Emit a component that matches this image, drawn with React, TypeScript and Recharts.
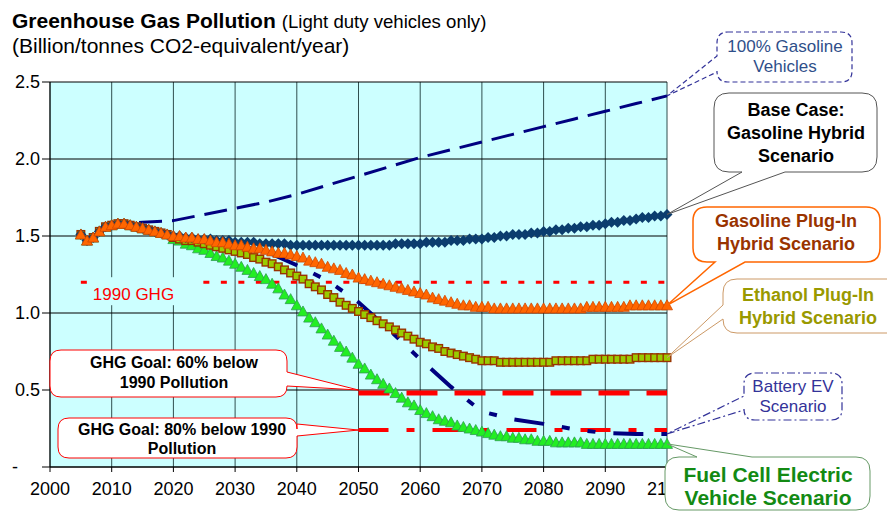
import React from 'react';
import { LineChart, Line, XAxis, YAxis, CartesianGrid, ReferenceLine, ReferenceDot } from 'recharts';

const FONT = '"Liberation Sans", Arial, sans-serif';

// x categories: one point per year
const years = Array.from({ length: 96 }, (_, i) => 2005 + i);
const xTicks = [2000, 2010, 2020, 2030, 2040, 2050, 2060, 2070, 2080, 2090, 2100];
const yTicks = [0, 0.5, 1, 1.5, 2, 2.5];

// shared history 2005-2019
const early = [1.51, 1.47, 1.49, 1.53, 1.56, 1.57, 1.58, 1.58, 1.57, 1.56, 1.55, 1.54, 1.53, 1.52, 1.51];

// 2020-2100, yearly
const baseTail = [
  1.50, 1.50, 1.49, 1.49, 1.48, 1.48, 1.48, 1.47, 1.47, 1.47,
  1.46, 1.46, 1.46, 1.46, 1.45, 1.45, 1.45, 1.45, 1.45, 1.44,
  1.44, 1.44, 1.44, 1.44, 1.44, 1.44, 1.44, 1.44, 1.44, 1.44,
  1.44, 1.44, 1.44, 1.44, 1.44, 1.44, 1.45, 1.45, 1.45, 1.45,
  1.45, 1.46, 1.46, 1.46, 1.46, 1.47, 1.47, 1.47, 1.48, 1.48,
  1.48, 1.49, 1.49, 1.50, 1.50, 1.51, 1.51, 1.51, 1.52, 1.52,
  1.53, 1.53, 1.54, 1.54, 1.55, 1.55, 1.56, 1.56, 1.57, 1.57,
  1.58, 1.59, 1.59, 1.60, 1.60, 1.61, 1.62, 1.62, 1.63, 1.63,
  1.64,
];
const gasPhevTail = [
  1.50, 1.50, 1.49, 1.49, 1.48, 1.48, 1.47, 1.46, 1.46, 1.45,
  1.44, 1.44, 1.43, 1.42, 1.42, 1.41, 1.40, 1.39, 1.39, 1.38,
  1.37, 1.36, 1.34, 1.33, 1.32, 1.30, 1.29, 1.28, 1.26, 1.25,
  1.23, 1.22, 1.21, 1.20, 1.19, 1.18, 1.17, 1.16, 1.15, 1.14,
  1.13, 1.12, 1.10, 1.09, 1.08, 1.07, 1.06, 1.05, 1.05, 1.04,
  1.04, 1.04, 1.03, 1.03, 1.03, 1.03, 1.03, 1.03, 1.03, 1.03,
  1.03, 1.03, 1.03, 1.03, 1.03, 1.03, 1.03, 1.04, 1.04, 1.04,
  1.04, 1.04, 1.04, 1.04, 1.05, 1.05, 1.05, 1.05, 1.05, 1.05,
  1.05,
];
const ethanolTail = [
  1.49, 1.48, 1.47, 1.47, 1.46, 1.45, 1.44, 1.43, 1.42, 1.41,
  1.40, 1.39, 1.38, 1.36, 1.35, 1.33, 1.32, 1.30, 1.28, 1.26,
  1.24, 1.22, 1.19, 1.17, 1.15, 1.12, 1.10, 1.07, 1.05, 1.03,
  1.01, 0.99, 0.97, 0.95, 0.93, 0.91, 0.89, 0.87, 0.85, 0.83,
  0.81, 0.80, 0.78, 0.77, 0.75, 0.74, 0.73, 0.72, 0.71, 0.70,
  0.69, 0.69, 0.69, 0.68, 0.68, 0.68, 0.68, 0.68, 0.68, 0.68,
  0.68, 0.68, 0.69, 0.69, 0.69, 0.69, 0.69, 0.69, 0.70, 0.70,
  0.70, 0.70, 0.70, 0.70, 0.70, 0.71, 0.71, 0.71, 0.71, 0.71,
  0.71,
];
const fuelCellTail = [
  1.48, 1.47, 1.45, 1.44, 1.42, 1.41, 1.39, 1.37, 1.36, 1.34,
  1.32, 1.30, 1.28, 1.26, 1.24, 1.22, 1.19, 1.16, 1.12, 1.09,
  1.05, 1.01, 0.97, 0.94, 0.90, 0.86, 0.82, 0.78, 0.75, 0.71,
  0.67, 0.64, 0.60, 0.57, 0.54, 0.51, 0.48, 0.45, 0.42, 0.40,
  0.37, 0.35, 0.33, 0.31, 0.30, 0.29, 0.27, 0.26, 0.25, 0.24,
  0.23, 0.22, 0.21, 0.20, 0.20, 0.19, 0.19, 0.18, 0.18, 0.17,
  0.17, 0.17, 0.16, 0.16, 0.16, 0.16, 0.16, 0.15, 0.15, 0.15,
  0.15, 0.15, 0.15, 0.15, 0.15, 0.15, 0.15, 0.15, 0.15, 0.15,
  0.15,
];

// lines without markers: sparse points
const gasYears = [2005, 2006, 2007, 2008, 2009, 2010, 2011, 2012, 2015, 2020, 2025, 2030, 2035, 2040, 2045, 2050, 2055, 2060, 2065, 2070, 2075, 2080, 2085, 2090, 2095, 2100];
const gasValues = [1.51, 1.47, 1.49, 1.53, 1.56, 1.57, 1.58, 1.58, 1.59, 1.60, 1.64, 1.68, 1.72, 1.77, 1.83, 1.89, 1.95, 2.01, 2.06, 2.11, 2.16, 2.21, 2.26, 2.31, 2.36, 2.41];
const bevYears = [2005, 2006, 2007, 2008, 2009, 2010, 2011, 2012, 2013, 2014, 2015, 2016, 2017, 2018, 2019, 2020, 2025, 2030, 2035, 2040, 2045, 2050, 2055, 2060, 2065, 2070, 2075, 2080, 2085, 2090, 2095, 2100];
const bevTail = [1.50, 1.47, 1.44, 1.40, 1.31, 1.21, 1.07, 0.89, 0.70, 0.52, 0.36, 0.31, 0.28, 0.245, 0.22, 0.215, 0.215];

const ghg1990 = 1.2;
const goal60 = 0.48;
const goal80 = 0.24;

const baseCase = [...early, ...baseTail];
const gasPhev = [...early, ...gasPhevTail];
const ethanolPhev = [...early, ...ethanolTail];
const fuelCell = [...early, ...fuelCellTail];
const bev = [...early, ...bevTail];

const toPoints = (xs: number[], vs: number[]) => xs.map((year, i) => ({ year, value: vs[i] }));
const last = (a: number[]) => a[a.length - 1];

const Diamond = (p: any) => (
  <path key={p.index} d={`M${p.cx},${p.cy - 5.5}L${p.cx + 5.5},${p.cy}L${p.cx},${p.cy + 5.5}L${p.cx - 5.5},${p.cy}Z`} fill="#0B3D6E" />
);
const OrangeTri = (p: any) => (
  <path key={p.index} d={`M${p.cx},${p.cy - 5.5}L${p.cx + 5.5},${p.cy + 4.5}L${p.cx - 5.5},${p.cy + 4.5}Z`} fill="#FF6600" stroke="#D04800" strokeWidth={0.8} />
);
const GreenTri = (p: any) => (
  <path key={p.index} d={`M${p.cx},${p.cy - 5.5}L${p.cx + 5.5},${p.cy + 4.5}L${p.cx - 5.5},${p.cy + 4.5}Z`} fill="#22EE22" stroke="#2E9E50" strokeWidth={0.8} />
);
const Square = (p: any) => (
  <rect key={p.index} x={p.cx - 3.8} y={p.cy - 3.8} width={7.6} height={7.6} fill="#99CC00" stroke="#993300" strokeWidth={1.4} />
);

const YTick = (p: any) => {
  const v = p.payload.value;
  return (
    <text x={v === 0 ? p.x - 22 : p.x} y={p.y} dy="0.355em" textAnchor="end" fontSize={18} fill="#000" fontFamily={FONT}>
      {v === 0 ? '-' : v.toFixed(1)}
    </text>
  );
};

type Tail = { side: 'top' | 'right' | 'bottom' | 'left'; a: number; b: number };
type CalloutSpec = {
  key: string; ax: number; ay: number;
  x: number; y: number; w: number; h: number; r: number;
  stroke: string; sw: number; dash?: string; tail: Tail;
  lines: string[]; color: string; fs: number; bold: boolean; tx: number; base: number; gap: number;
};

function calloutPath(c: CalloutSpec, tx: number, ty: number) {
  const { x, y, w, h, r, tail: t } = c;
  const R = x + w, B = y + h;
  let d = `M${x + r},${y}`;
  if (t.side === 'top') d += `L${t.a},${y}L${tx},${ty}L${t.b},${y}`;
  d += `L${R - r},${y}Q${R},${y} ${R},${y + r}`;
  if (t.side === 'right') d += `L${R},${t.a}L${tx},${ty}L${R},${t.b}`;
  d += `L${R},${B - r}Q${R},${B} ${R - r},${B}`;
  if (t.side === 'bottom') d += `L${t.b},${B}L${tx},${ty}L${t.a},${B}`;
  d += `L${x + r},${B}Q${x},${B} ${x},${B - r}`;
  if (t.side === 'left') d += `L${x},${t.b}L${tx},${ty}L${x},${t.a}`;
  d += `L${x},${y + r}Q${x},${y} ${x + r},${y}Z`;
  return d;
}

const Callout = ({ c, tx, ty }: { c: CalloutSpec; tx: number; ty: number }) => (
  <g>
    <path d={calloutPath(c, tx, ty)} fill="#fff" stroke={c.stroke} strokeWidth={c.sw} strokeDasharray={c.dash} />
    {c.lines.map((line, i) => (
      <text key={i} x={c.tx} y={c.base + i * c.gap} textAnchor="middle" fontSize={c.fs} fontWeight={c.bold ? 'bold' : 'normal'} fill={c.color} fontFamily={FONT}>
        {line}
      </text>
    ))}
  </g>
);

const callouts: CalloutSpec[] = [
  { key: 'gas', ax: 2100, ay: last(gasValues), x: 717, y: 32, w: 135, h: 50, r: 11, stroke: '#333399', sw: 1.2, dash: '5 3', tail: { side: 'left', a: 56, b: 72 }, lines: ['100% Gasoline', 'Vehicles'], color: '#2F4F8A', fs: 17, bold: false, tx: 785, base: 52, gap: 20 },
  { key: 'base', ax: 2100, ay: last(baseCase), x: 714, y: 93, w: 163, h: 79, r: 15, stroke: '#555', sw: 1, tail: { side: 'bottom', a: 742, b: 785 }, lines: ['Base Case:', 'Gasoline Hybrid', 'Scenario'], color: '#000', fs: 18, bold: true, tx: 796, base: 116, gap: 23 },
  { key: 'phev', ax: 2100, ay: last(gasPhev), x: 693, y: 207, w: 187, h: 55, r: 14, stroke: '#FF6600', sw: 1.5, tail: { side: 'bottom', a: 715, b: 745 }, lines: ['Gasoline Plug-In', 'Hybrid Scenario'], color: '#993300', fs: 18, bold: true, tx: 786, base: 227, gap: 23 },
  { key: 'eth', ax: 2100, ay: last(ethanolPhev), x: 723, y: 279, w: 180, h: 54, r: 14, stroke: '#CC9966', sw: 1, tail: { side: 'left', a: 305, b: 319 }, lines: ['Ethanol Plug-In', 'Hybrid Scenario'], color: '#999900', fs: 18, bold: true, tx: 808, base: 301, gap: 23 },
  { key: 'bev', ax: 2100, ay: last(bev), x: 744, y: 373, w: 98, h: 47, r: 11, stroke: '#333399', sw: 1.2, dash: '8 3 2 3', tail: { side: 'left', a: 396, b: 410 }, lines: ['Battery EV', 'Scenario'], color: '#333399', fs: 17, bold: false, tx: 793, base: 392, gap: 20 },
  { key: 'fc', ax: 2100, ay: last(fuelCell), x: 665, y: 457, w: 205, h: 53, r: 14, stroke: '#669966', sw: 1, tail: { side: 'top', a: 697, b: 752 }, lines: ['Fuel Cell Electric', 'Vehicle Scenario'], color: '#138A13', fs: 21, bold: true, tx: 768, base: 482, gap: 23 },
  { key: 'g60', ax: 2050, ay: 0.5, x: 50, y: 350, w: 237, h: 47, r: 11, stroke: '#FF0000', sw: 1, tail: { side: 'right', a: 372, b: 386 }, lines: ['GHG Goal: 60% below', '1990 Pollution'], color: '#000', fs: 16, bold: true, tx: 174, base: 368, gap: 20 },
  { key: 'g80', ax: 2050, ay: goal80, x: 58, y: 418, w: 239, h: 40, r: 11, stroke: '#FF0000', sw: 1, tail: { side: 'right', a: 424, b: 436 }, lines: ['GHG Goal: 80% below 1990', 'Pollution'], color: '#000', fs: 16, bold: true, tx: 182, base: 435, gap: 19 },
];

const GhgLabel = (p: any) => (
  <g>
    <rect x={p.cx + 7} y={p.cy - 5} width={115} height={28} fill="#CCFFFF" />
    <text x={p.cx + 12} y={p.cy + 18} fontSize={17} fill="#FF0000" fontFamily={FONT}>1990 GHG</text>
  </g>
);

export default function App() {
  return (
    <div style={{ position: 'absolute', left: 0, top: 0, width: 887, height: 512, background: '#fff', fontFamily: FONT }}>
      <svg width={887} height={60} style={{ position: 'absolute', left: 0, top: 0 }}>
        <text x={12} y={28} fontSize={21} fontWeight="bold" fontFamily={FONT} fill="#000">
          Greenhouse Gas Pollution
          <tspan fontWeight="normal" fontSize={18.6} dx={6}>(Light duty vehicles only)</tspan>
        </text>
        <text x={12} y={52.5} fontSize={21} fontFamily={FONT} fill="#000">(Billion/tonnes CO2-equivalent/year)</text>
      </svg>
      <LineChart width={887} height={512} margin={{ top: 82, right: 220, bottom: 15, left: 8 }} style={{ position: 'absolute', left: 0, top: 0 }}>
        <CartesianGrid horizontal={false} stroke="#2F4F4F" fill="#CCFFFF" />
        <CartesianGrid vertical={false} stroke="#000" />
        <XAxis dataKey="year" type="number" domain={[2000, 2100]} ticks={xTicks} interval={0} tickSize={5} tickMargin={10}
          tick={{ fontSize: 18, fill: '#000', fontFamily: FONT }} axisLine={{ stroke: '#000' }} tickLine={{ stroke: '#000' }} height={30} />
        <YAxis type="number" domain={[0, 2.5]} ticks={yTicks} interval={0} tickSize={8} tickMargin={2} width={42}
          tick={<YTick />} axisLine={{ stroke: '#000' }} tickLine={{ stroke: '#000' }} />

        <ReferenceLine segment={[{ x: 2005, y: ghg1990 }, { x: 2100, y: ghg1990 }]} stroke="#FF0000" strokeWidth={3} strokeDasharray="6 11.5" />
        <ReferenceLine segment={[{ x: 2050, y: goal60 }, { x: 2100, y: goal60 }]} stroke="#FF0000" strokeWidth={5} strokeDasharray="31 17" />
        <ReferenceLine segment={[{ x: 2050, y: goal80 }, { x: 2100, y: goal80 }]} stroke="#FF0000" strokeWidth={4} strokeDasharray="30 18 8 18" />

        <Line data={toPoints(gasYears, gasValues)} dataKey="value" type="linear" stroke="#000080" strokeWidth={3} strokeDasharray="23 10" dot={false} activeDot={false} isAnimationActive={false} />
        <Line data={toPoints(years, fuelCell)} dataKey="value" type="linear" stroke="#22CC22" strokeWidth={1.5} dot={GreenTri} activeDot={false} isAnimationActive={false} />
        <Line data={toPoints(years, ethanolPhev)} dataKey="value" type="linear" stroke="#993300" strokeWidth={1.5} dot={Square} activeDot={false} isAnimationActive={false} />
        <Line data={toPoints(bevYears, bev)} dataKey="value" type="linear" stroke="#000080" strokeWidth={4} strokeDasharray="30 18 8 18 8 18" dot={false} activeDot={false} isAnimationActive={false} />
        <Line data={toPoints(years, baseCase)} dataKey="value" type="linear" stroke="#0B3D6E" strokeWidth={2} dot={Diamond} activeDot={false} isAnimationActive={false} />
        <Line data={toPoints(years, gasPhev)} dataKey="value" type="linear" stroke="#FF6600" strokeWidth={1.5} dot={OrangeTri} activeDot={false} isAnimationActive={false} />

        <ReferenceDot x={2005} y={ghg1990} r={0} zIndex={2500} shape={(p: any) => <GhgLabel {...p} />} />
        {callouts.map((c) => (
          <ReferenceDot key={c.key} x={c.ax} y={c.ay} r={0} zIndex={3000} shape={(p: any) => <Callout c={c} tx={p.cx} ty={p.cy} />} />
        ))}
      </LineChart>
    </div>
  );
}
